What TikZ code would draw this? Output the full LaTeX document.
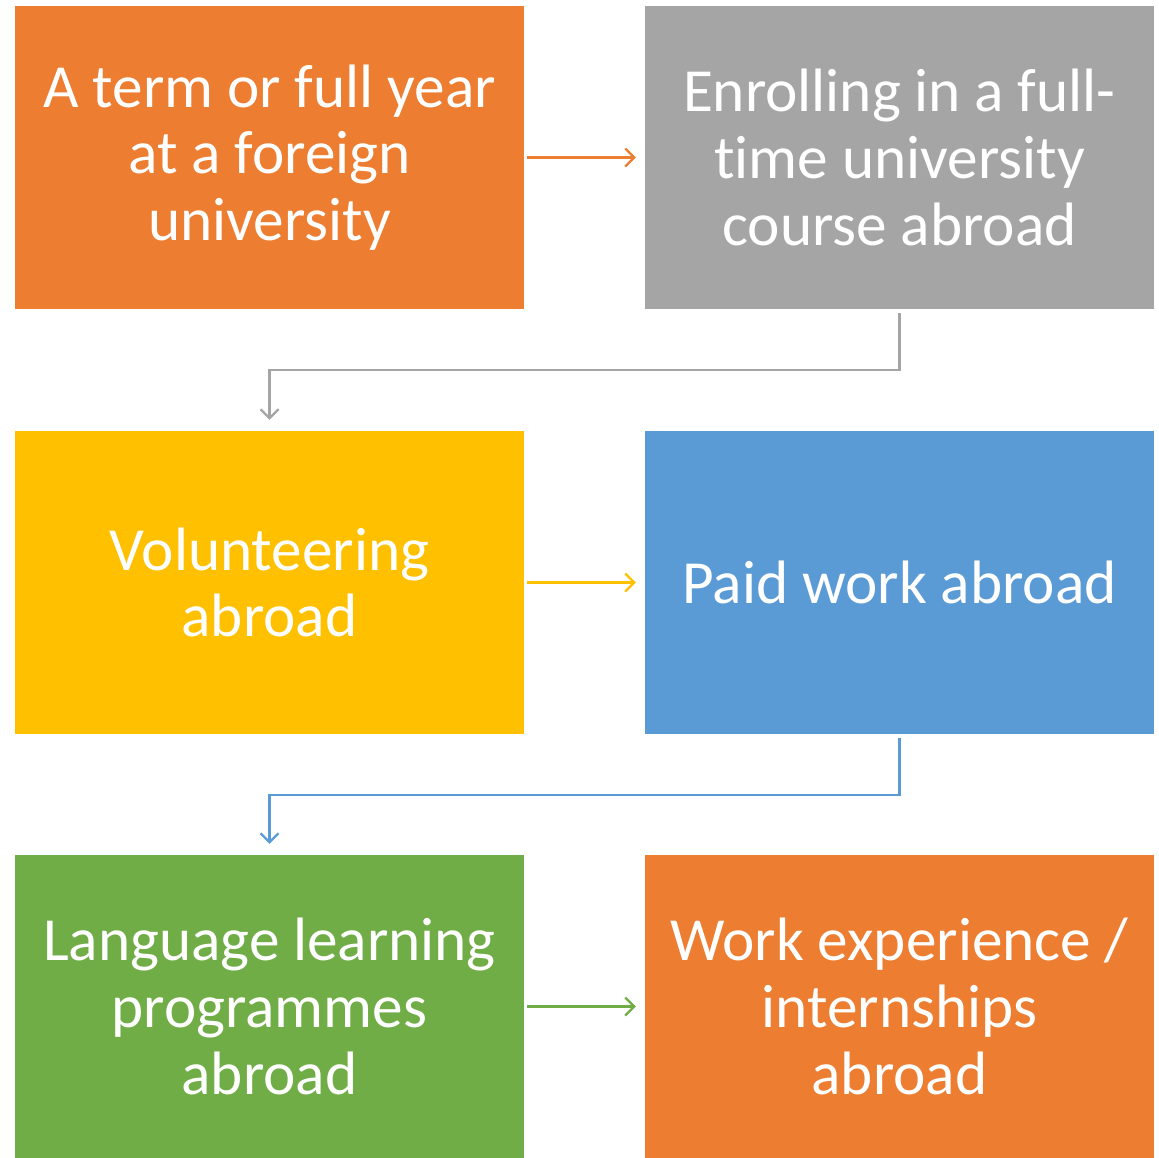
\documentclass[tikz,border=0pt]{standalone}
\usepackage{fontspec}
\setmainfont{Carlito}[Ligatures={NoCommon}]
\usetikzlibrary{arrows.meta,calc}
\definecolor{cOrange}{HTML}{ED7D31}
\definecolor{cGray}{HTML}{A5A5A5}
\definecolor{cYellow}{HTML}{FFC000}
\definecolor{cBlue}{HTML}{5B9BD5}
\definecolor{cGreen}{HTML}{70AD47}
\tikzset{
  box/.style={draw=none, minimum width=509bp, minimum height=303bp, text width=505bp,
    align=center, text=white, inner sep=0pt,
    font=\fontsize{61.5}{67}\selectfont,
    execute at begin node={\spaceskip=0.226em\relax}},
  arr/.style={line width=2.2bp, -{Straight Barb[length=9bp,width=18bp,line width=2.2bp]},
    shorten <=3bp, shorten >=9bp}
}
\begin{document}
\begin{tikzpicture}[x=1bp,y=-1bp]
\useasboundingbox (0,0) rectangle (1159,1158);
\node[box, fill=cOrange] (b1) at (269.5,157.5) {A term or full year\\at a foreign\\university};
\node[box, fill=cGray] (b2) at (899.5,157.5) {Enrolling in a full-\\time university\\course abroad};
\node[box, fill=cYellow] (b3) at (269.5,582.5) {Volunteering\\abroad};
\node[box, fill=cBlue] (b4) at (899.5,582.5) {Paid work abroad};
\node[box, fill=cGreen] (b5) at (269.5,1006.5) {Language learning\\programmes\\abroad};
\node[box, fill=cOrange] (b6) at (899.5,1006.5) {Work experience /\\internships\\abroad};
\draw[arr, cOrange] (b1.east) -- (b2.west);
\draw[arr, cYellow] (b3.east) -- (b4.west);
\draw[arr, cGreen] (b5.east) -- (b6.west);
\draw[arr, cGray, shorten <=4bp, shorten >=11bp] (b2.south) -- ++(0,61) -| (b3.north);
\draw[arr, cBlue, shorten <=4bp, shorten >=11bp] (b4.south) -- ++(0,61) -| (b5.north);
\end{tikzpicture}
\end{document}
